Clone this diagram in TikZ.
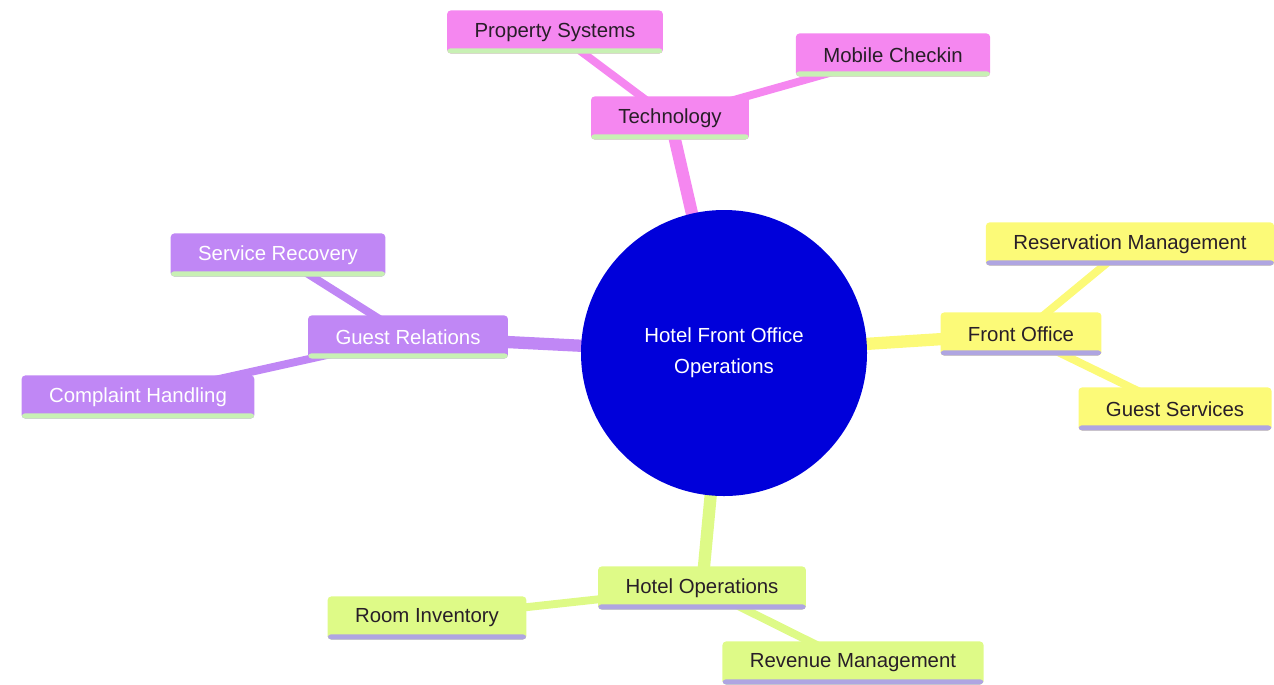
\documentclass[tikz,border=0pt]{standalone}
\usepackage{fontspec}
\setmainfont{Liberation Sans}
\usetikzlibrary{backgrounds}

\definecolor{pinkbox}{RGB}{245,135,240}
\definecolor{purplebox}{RGB}{192,135,245}
\definecolor{yellowbox}{RGB}{252,250,120}
\definecolor{greenbox}{RGB}{222,250,135}
\definecolor{rootblue}{RGB}{0,0,218}
\definecolor{greenbar}{RGB}{200,240,180}
\definecolor{lilacbar}{RGB}{175,165,225}
\definecolor{textdark}{RGB}{40,30,40}

\begin{document}
\begin{tikzpicture}[x=0.02cm,y=-0.02cm,
    box/.style = {rounded corners=2pt, inner xsep=15.6pt, minimum height=24.5pt,
                  font=\fontsize{11.6}{14}\selectfont, text=textdark},
    lowbar/.style = {path picture={\fill[#1] ([yshift=3pt]path picture bounding box.south west) rectangle (path picture bounding box.south east);}},
    techbox/.style = {box, fill=pinkbox, lowbar=greenbar},
    guestbox/.style = {box, fill=purplebox, lowbar=greenbar, text=white},
    frontbox/.style = {box, fill=yellowbox, lowbar=lilacbar},
    opsbox/.style = {box, fill=greenbox, lowbar=lilacbar},
    trunk/.style = {line width=7pt},
    twig/.style = {line width=4.5pt}]
    \useasboundingbox (0,0) rectangle (1274,684);

    \node[circle, fill=rootblue, minimum size=286*0.02cm, text=white, align=center,
          font=\fontsize{11.6}{17.6}\selectfont] (root) at (724,353) {Hotel Front Office\\Operations};

    \node[techbox] (tech) at (670,118) {Technology};
    \node[techbox] (props) at (555,32) {Property Systems};
    \node[techbox] (mobile) at (893,55) {Mobile Checkin};

    \node[frontbox] (front) at (1021,334) {Front Office};
    \node[frontbox] (reserv) at (1130,244) {Reservation Management};
    \node[frontbox] (gserv) at (1175,409) {Guest Services};

    \node[guestbox] (grel) at (408,337) {Guest Relations};
    \node[guestbox] (recov) at (278,255) {Service Recovery};
    \node[guestbox] (compl) at (138,397) {Complaint Handling};

    \node[opsbox] (ops) at (702,588) {Hotel Operations};
    \node[opsbox] (rooms) at (427,618) {Room Inventory};
    \node[opsbox] (revenue) at (853,663) {Revenue Management};

    \begin{scope}[on background layer]
        \draw[trunk, pinkbox] (root.center) -- (tech.center);
        \draw[twig, pinkbox] (tech.center) -- (props.center);
        \draw[twig, pinkbox] (tech.center) -- (mobile.center);
        \draw[trunk, yellowbox] (root.center) -- (front.center);
        \draw[twig, yellowbox] (front.center) -- (reserv.center);
        \draw[twig, yellowbox] (front.center) -- (gserv.center);
        \draw[trunk, purplebox] (root.center) -- (grel.center);
        \draw[twig, purplebox] (grel.center) -- (recov.center);
        \draw[twig, purplebox] (grel.center) -- (compl.center);
        \draw[trunk, greenbox] (root.center) -- (ops.center);
        \draw[twig, greenbox] (ops.center) -- (rooms.center);
        \draw[twig, greenbox] (ops.center) -- (revenue.center);
    \end{scope}
\end{tikzpicture}
\end{document}
